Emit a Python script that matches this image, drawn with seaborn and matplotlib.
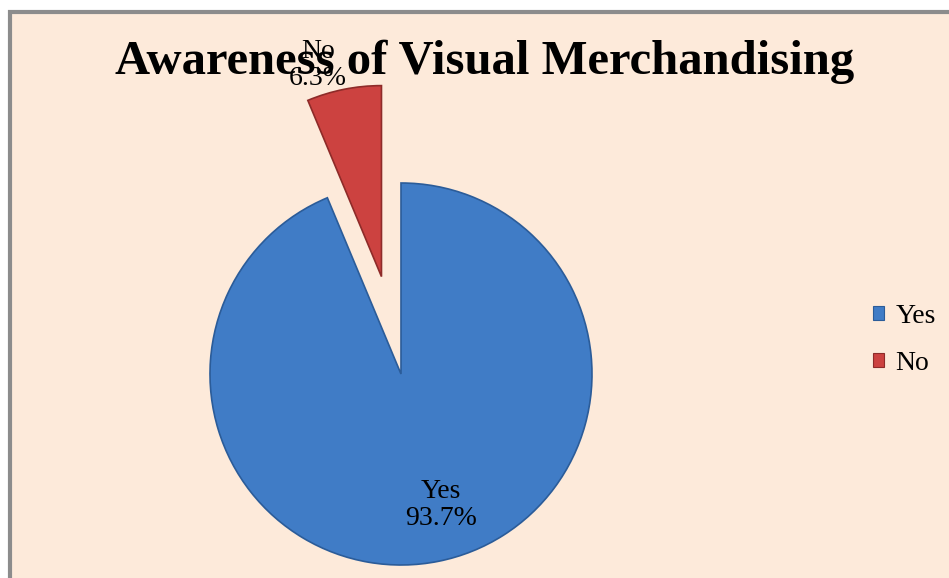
import numpy as np
import matplotlib
matplotlib.use("Agg")
import matplotlib.pyplot as plt
from matplotlib.patches import Rectangle, Patch
import seaborn as sns

# ---- data ----
categories = ["Yes", "No"]
values = [93.7, 6.3]
explode_amt = [0.0, 0.52]
slice_colors = ["#407CC6", "#CC4240"]
edge_colors = ["#2B5C99", "#8E2B29"]
title = "Awareness of Visual Merchandising"

sns.set_theme(style="white")
plt.rcParams["font.family"] = ["Liberation Serif", "DejaVu Serif"]
plt.rcParams["text.color"] = "black"

W, H = 949, 578
fig = plt.figure(figsize=(W / 100, H / 100), dpi=100, facecolor="white")

# background panel with gray border (right/bottom cut off)
bg = Rectangle((10 / W, -0.1), 1.2, 1 - 12 / H + 0.1, transform=fig.transFigure,
               facecolor="#FDEADA", edgecolor="#8C8C8C", linewidth=3, zorder=-10)
fig.patches.append(bg)

ax = fig.add_axes([0, 0, 1, 1])
ax.set_zorder(1)
ax.patch.set_visible(False)
cx, cy, R = 401, 374, 191

wedges, _ = ax.pie(values, colors=slice_colors, startangle=90, counterclock=False,
                   explode=explode_amt, radius=1.0, center=(0, 0), frame=True,
                   wedgeprops=dict(linewidth=1.2))
for w, ec in zip(wedges, edge_colors):
    w.set_edgecolor(ec)
ax.set_xlim(-cx / R, (W - cx) / R)
ax.set_ylim(-(H - cy) / R, cy / R)
ax.set_aspect("equal")
ax.axis("off")

# data labels
for i, (w, cat, v) in enumerate(zip(wedges, categories, values)):
    th = np.deg2rad((w.theta1 + w.theta2) / 2)
    wx, wy = w.center
    if i == 0:
        d, off = 0.70, (0.07, 0.0)
    else:
        d, off = 1.13, (-0.11, 0.0)
    tx = wx + d * np.cos(th) + off[0]
    ty = wy + d * np.sin(th) + off[1]
    ax.text(tx, ty, f"{cat}\n{v:.1f}%", ha="center", va="center",
            fontsize=20, color="black", linespacing=1.1, zorder=5)

fig.text(485 / W, 1 - 62 / H, title, ha="center", va="center",
         fontsize=35, fontweight="bold", color="black", zorder=6)

handles = [Patch(facecolor=c, edgecolor=e, linewidth=0.8) for c, e in zip(slice_colors, edge_colors)]
leg = fig.legend(handles, categories, loc="center left", bbox_to_anchor=(873 / W, 1 - 340 / H),
                 frameon=False, fontsize=20, handlelength=0.4, handleheight=0.4,
                 handletextpad=0.4, labelspacing=0.8, borderpad=0, borderaxespad=0)
for t in leg.get_texts():
    t.set_color("black")

fig.savefig("out.png", dpi=100, facecolor=fig.get_facecolor())
